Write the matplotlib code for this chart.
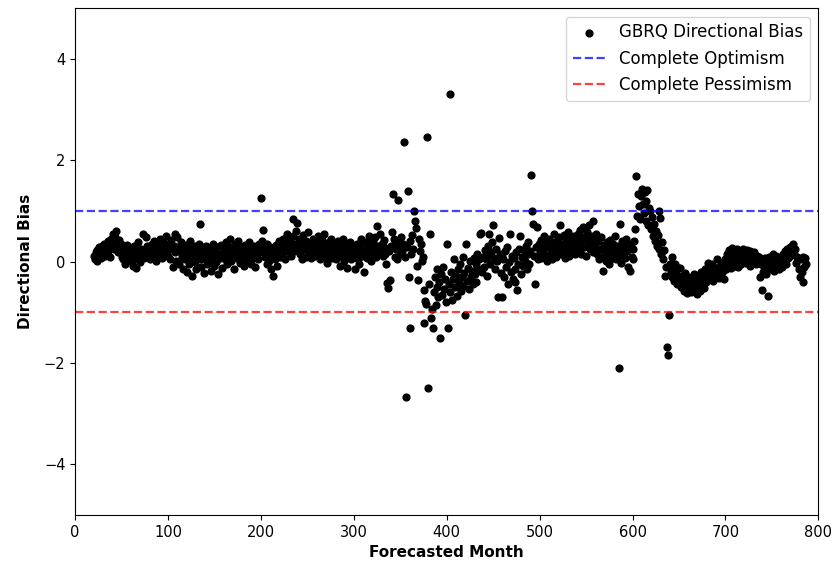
import matplotlib
matplotlib.use("Agg")
import matplotlib.pyplot as plt
import numpy as np

# forecasted months and GBRQ directional bias
months = np.arange(20, 788)
bias = [
    0.12, 0.05, 0.18, 0.02, 0.22, 0.10, 0.28, 0.15, 0.08, 0.30, 0.20, 0.35, 0.12, 0.25, 0.18, 0.40, 0.22, 0.10, 0.32, 0.45,
    0.38, 0.55, 0.25, 0.48, 0.60, 0.30, 0.18, 0.42, 0.22, 0.35, 0.10, 0.28, 0.05, 0.20, -0.05, 0.15, 0.32, 0.08, 0.25, 0.12,
    0.02, 0.18, -0.08, 0.30, 0.10, -0.12, 0.22, 0.05, 0.38, 0.15, 0.00, 0.25, 0.12, 0.55, 0.08, 0.20, 0.48, 0.30, 0.10, 0.15,
    0.28, 0.05, 0.22, 0.35, 0.12, 0.40, 0.18, 0.02, 0.30, 0.25, 0.10, 0.45, 0.20, 0.32, 0.08, 0.38, 0.15, 0.28, 0.50, 0.22,
    0.12, 0.35, 0.05, 0.42, 0.25, -0.10, 0.30, 0.55, 0.18, 0.02, 0.48, 0.20, -0.05, 0.28, 0.38, 0.10, -0.15, 0.22, 0.05, 0.32,
    -0.20, 0.12, 0.25, -0.05, 0.40, 0.08, -0.28, 0.18, 0.30, 0.00, -0.15, 0.22, 0.10, 0.35, 0.75, 0.05, -0.10, 0.28, 0.15, -0.22,
    0.10, 0.30, -0.05, 0.18, 0.02, 0.25, -0.18, 0.12, 0.35, 0.05, -0.08, 0.20, 0.00, 0.28, -0.25, 0.15, 0.08, 0.32, -0.12, 0.10,
    0.22, 0.05, 0.38, 0.12, -0.05, 0.30, 0.18, 0.45, 0.02, 0.25, 0.10, -0.15, 0.35, 0.20, 0.08, 0.40, 0.15, -0.02, 0.28, 0.12,
    0.05, 0.20, -0.08, 0.32, 0.15, 0.02, 0.25, 0.38, 0.10, -0.05, 0.22, 0.08, 0.30, 0.15, -0.10, 0.12, 0.28, 0.05, 0.35, 0.18,
    1.25, 0.40, 0.63, 0.30, 0.10, 0.22, -0.05, 0.35, 0.15, 0.02, 0.28, -0.15, 0.12, -0.28, 0.20, 0.05, 0.32, -0.08, 0.18, 0.40,
    0.25, 0.10, 0.38, 0.15, 0.45, 0.22, 0.05, 0.35, 0.55, 0.28, 0.18, 0.42, 0.12, 0.30, 0.85, 0.50, 0.20, 0.35, 0.60, 0.77,
    0.28, 0.45, 0.15, 0.38, 0.05, 0.52, 0.25, 0.32, 0.10, 0.40, 0.22, 0.58, 0.18, 0.35, 0.08, 0.30, 0.45, 0.20, 0.12, 0.38,
    0.25, 0.50, 0.15, 0.35, 0.05, 0.28, 0.42, 0.18, 0.55, 0.10, 0.30, -0.02, 0.22, 0.38, 0.12, 0.45, 0.20, 0.08, 0.32, 0.15,
    0.35, 0.05, 0.25, 0.40, 0.12, -0.08, 0.28, 0.18, 0.45, 0.02, 0.22, 0.32, 0.10, -0.12, 0.30, 0.15, 0.38, 0.05, 0.20, 0.28,
    0.10, -0.15, 0.25, 0.35, 0.05, 0.18, -0.05, 0.30, 0.45, 0.12, 0.22, -0.20, 0.15, 0.38, 0.08, 0.28, 0.50, 0.20, 0.02, 0.32,
    0.15, 0.40, 0.25, 0.48, 0.10, 0.71, 0.30, 0.18, 0.55, 0.22, 0.35, 0.12, 0.42, 0.28, 0.15, -0.05, -0.43, -0.53, 0.20, -0.37,
    0.30, 0.59, 1.34, 0.45, 0.10, 0.25, 0.38, 0.05, 1.22, 0.32, 0.15, 0.48, 0.20, 0.35, 2.36, 0.10, -2.68, 0.28, 1.40, -0.30,
    0.40, -1.32, 0.15, 0.52, 0.25, 1.00, 0.80, 0.67, -0.08, -0.36, 0.45, 0.20, 0.35, 0.02, 0.10, -0.57, -1.22, -0.77, -0.83, 2.46,
    -2.50, -0.45, 0.55, -1.12, -0.93, -1.32, -0.60, -0.30, -0.85, -0.50, -0.15, -0.70, -0.40, -1.50, -0.25, -0.65, -0.10, -0.55, -0.35, -0.80,
    0.35, -1.32, -0.45, 3.31, -0.60, -0.20, -0.75, -0.35, 0.05, -0.50, -0.28, -0.68, -0.15, -0.42, -0.05, -0.58, -0.30, 0.10, -0.48, -0.22,
    -1.06, 0.35, -0.38, -0.12, -0.55, 0.02, -0.30, -0.18, -0.45, 0.08, -0.25, -0.05, -0.40, 0.15, -0.15, 0.05, 0.55, 0.57, -0.20, 0.10,
    -0.10, 0.22, 0.05, -0.28, 0.30, 0.12, 0.55, -0.05, 0.18, 0.38, 0.73, 0.08, -0.15, 0.25, 0.02, -0.69, 0.47, 0.15, -0.22, 0.10,
    -0.69, 0.05, -0.30, 0.20, -0.10, 0.28, -0.45, 0.00, 0.55, -0.20, 0.12, -0.35, 0.08, -0.15, -0.41, 0.18, -0.57, -0.05, 0.25, 0.51,
    -0.25, 0.10, -0.08, 0.22, 0.02, 0.30, -0.15, 0.15, 0.38, -0.05, 0.20, 1.71, 1.00, 0.75, 0.12, -0.45, 0.28, 0.69, 0.05, 0.35,
    0.18, 0.42, 0.08, 0.30, 0.22, 0.50, 0.12, 0.35, 0.02, 0.28, 0.45, 0.15, 0.38, 0.05, 0.25, 0.55, 0.20, 0.32, 0.10, 0.40,
    0.22, 0.48, 0.73, 0.15, 0.35, 0.28, 0.52, 0.08, 0.40, 0.18, 0.30, 0.58, 0.12, 0.45, 0.25, 0.35, 0.20, 0.50, 0.15, 0.42,
    0.30, 0.55, 0.22, 0.62, 0.38, 0.15, 0.48, 0.68, 0.28, 0.45, 0.12, 0.58, 0.35, 0.72, 0.25, 0.50, 0.40, 0.18, 0.80, 0.45,
    0.30, 0.55, 0.15, 0.40, 0.05, 0.25, 0.48, 0.10, -0.18, 0.32, 0.20, 0.02, 0.38, 0.15, 0.28, -0.05, 0.42, 0.22, 0.08, 0.35,
    0.18, 0.50, 0.05, 0.30, 0.12, -2.09, 0.75, 0.25, -0.02, 0.40, 0.15, 0.32, 0.08, 0.45, 0.20, -0.10, 0.28, -0.18, 0.35, 0.10,
    0.25, 0.05, 0.40, 0.65, 1.69, 0.90, 1.34, 1.10, 0.85, 1.30, 1.44, 1.14, 0.95, 1.38, 1.20, 0.80, 1.42, 0.72, 1.05, 1.00,
    0.65, 0.88, 0.50, 0.75, 0.40, 0.60, 0.30, 0.52, 1.00, 0.25, 0.87, 0.15, 0.38, 0.05, 0.22, -0.28, -0.10, -1.68, -1.85, -1.05,
    -0.04, -0.20, 0.10, -0.30, -0.15, -0.38, -0.05, -0.25, -0.45, -0.12, -0.35, -0.12, -0.50, -0.28, -0.40, -0.58, -0.22, -0.48, -0.35, -0.62,
    -0.30, -0.52, -0.40, -0.60, -0.35, -0.45, -0.25, -0.55, -0.42, -0.63, -0.32, -0.50, -0.38, -0.58, -0.20, -0.45, -0.30, -0.52, -0.15, -0.40,
    -0.25, -0.02, -0.35, -0.10, -0.28, -0.18, -0.05, -0.38, -0.22, -0.12, -0.30, 0.05, -0.15, -0.32, -0.08, -0.25, -0.02, -0.18, -0.35, -0.10,
    0.05, -0.15, 0.15, -0.05, 0.22, 0.08, -0.12, 0.27, 0.00, 0.18, -0.08, 0.12, 0.25, 0.02, -0.10, 0.20, 0.10, -0.05, 0.15, 0.25,
    0.08, 0.18, -0.02, 0.22, 0.12, 0.05, 0.20, -0.08, 0.15, 0.10, 0.02, 0.18, 0.08, -0.05, 0.12, 0.00, 0.10, -0.30, -0.05, -0.57,
    0.05, -0.20, -0.10, 0.08, -0.25, -0.02, -0.67, 0.10, -0.15, 0.02, -0.08, 0.15, -0.18, 0.05, -0.12, 0.12, -0.05, 0.08, -0.15, 0.00,
    0.10, -0.10, 0.15, 0.02, 0.20, -0.05, 0.25, 0.08, 0.18, 0.28, 0.12, 0.22, 0.30, 0.35, 0.15, 0.25, -0.02, 0.10, 0.05, -0.15,
    -0.30, 0.05, -0.20, 0.10, -0.40, -0.10, 0.08, -0.05,
]

optimism = 1.0
pessimism = -1.0

fig = plt.figure(figsize=(8.35, 5.65), dpi=100)
ax = fig.add_axes([0.09, 0.0885, 0.89, 0.897])

ax.scatter(months, bias, color='black', s=24, label='GBRQ Directional Bias')
ax.axhline(optimism, color='blue', linestyle='--', linewidth=1.6, alpha=0.75, label='Complete Optimism')
ax.axhline(pessimism, color='red', linestyle='--', linewidth=1.6, alpha=0.75, label='Complete Pessimism')

ax.set_xlim(0, 800)
ax.set_ylim(-5, 5)
ax.tick_params(labelsize=10.5)
ax.set_xlabel('Forecasted Month', fontweight='bold', fontsize=11)
ax.set_ylabel('Directional Bias', fontweight='bold', fontsize=11, labelpad=8)
ax.legend(loc='upper right', fontsize=12)

plt.savefig("out.png", dpi=100)
